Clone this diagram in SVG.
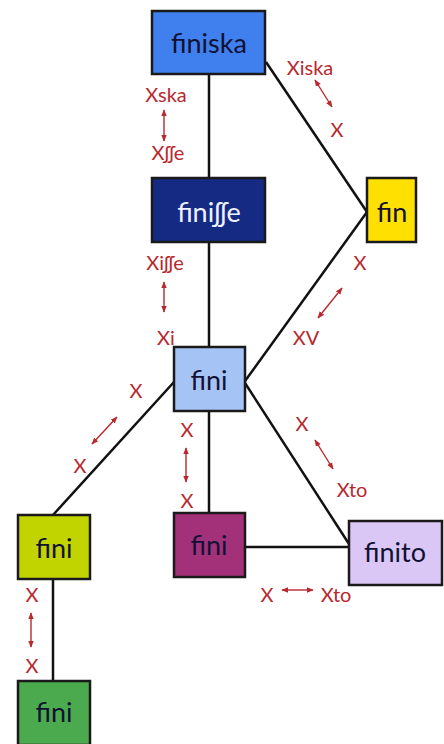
<svg xmlns="http://www.w3.org/2000/svg" width="444" height="744" viewBox="0 0 444 744">
<style>
.box{stroke:#1a1a1a;stroke-width:2.5}
.nt{font-family:Lato,"DejaVu Sans",sans-serif;font-size:27px;text-anchor:middle;fill:#111133}
.wt{fill:#f0f2ff}
.lbl{font-family:Lato,"DejaVu Sans",sans-serif;font-size:20px;text-anchor:middle;fill:#b8282e}
.edge{stroke:#111;stroke-width:2.5;fill:none}
.arr{stroke:#b8282e;stroke-width:1.4;fill:none;marker-start:url(#ah);marker-end:url(#ah)}
</style>
<defs>
<marker id="ah" viewBox="0 0 10 10" refX="9" refY="5" markerWidth="7" markerHeight="7" orient="auto-start-reverse" markerUnits="userSpaceOnUse">
<path d="M0,1 L10,5 L0,9 z" fill="#b8282e"/>
</marker>
</defs>
<rect width="444" height="744" fill="#fff"/>
<g id="connectors">
<line class="edge" x1="209" y1="75" x2="209" y2="178"/>
<line class="edge" x1="266" y1="62" x2="367" y2="212"/>
<line class="edge" x1="209" y1="243" x2="209" y2="347"/>
<line class="edge" x1="367" y1="212" x2="245" y2="381"/>
<line class="edge" x1="174" y1="382" x2="53" y2="515"/>
<line class="edge" x1="209" y1="411" x2="209" y2="512"/>
<line class="edge" x1="245" y1="383" x2="349" y2="544"/>
<line class="edge" x1="245" y1="547" x2="349" y2="547"/>
<line class="edge" x1="53" y1="579" x2="53" y2="680"/>
</g>
<g id="labels">
<text class="lbl" x="166" y="102">Xska</text>
<line class="arr" x1="164" y1="110" x2="164" y2="141"/>
<text class="lbl" x="168" y="160">Xʃʃe</text>
<text class="lbl" x="310" y="75">Xiska</text>
<line class="arr" x1="315" y1="80" x2="332" y2="107"/>
<text class="lbl" x="337" y="137">X</text>
<text class="lbl" x="165" y="270">Xiʃʃe</text>
<line class="arr" x1="164" y1="282" x2="164" y2="312"/>
<text class="lbl" x="166" y="345">Xi</text>
<text class="lbl" x="360" y="270">X</text>
<line class="arr" x1="342" y1="288" x2="318" y2="318"/>
<text class="lbl" x="306" y="345">XV</text>
<text class="lbl" x="136" y="398">X</text>
<line class="arr" x1="117" y1="417" x2="92" y2="444"/>
<text class="lbl" x="80" y="473">X</text>
<text class="lbl" x="187" y="437">X</text>
<line class="arr" x1="186" y1="448" x2="186" y2="482"/>
<text class="lbl" x="187" y="508">X</text>
<text class="lbl" x="302" y="431">X</text>
<line class="arr" x1="315" y1="440" x2="333" y2="469"/>
<text class="lbl" x="352" y="497">Xto</text>
<text class="lbl" x="267" y="602">X</text>
<line class="arr" x1="282" y1="590" x2="313" y2="590"/>
<text class="lbl" x="336" y="602">Xto</text>
<text class="lbl" x="32" y="602">X</text>
<line class="arr" x1="31" y1="613" x2="31" y2="647"/>
<text class="lbl" x="32" y="673">X</text>
</g>
<g id="n-finiska">
<rect class="box" x="152" y="11" width="113" height="63" fill="#3f80ee"/>
<text class="nt" x="209" y="53">finiska</text>
</g>
<g id="n-finisse">
<rect class="box" x="152" y="178" width="113" height="64" fill="#152a82"/>
<text class="nt wt" x="209" y="222">finiʃʃe</text>
</g>
<g id="n-fin">
<rect class="box" x="367" y="178" width="49" height="64" fill="#ffe000"/>
<text class="nt" x="392" y="222">fin</text>
</g>
<g id="n-fini-center">
<rect class="box" x="174" y="347" width="71" height="64" fill="#a6c3f5"/>
<text class="nt" x="209" y="390">fini</text>
</g>
<g id="n-fini-lime">
<rect class="box" x="18" y="515" width="72" height="64" fill="#c2d400"/>
<text class="nt" x="54" y="558">fini</text>
</g>
<g id="n-fini-magenta">
<rect class="box" x="174" y="513" width="71" height="64" fill="#a2317a"/>
<text class="nt" x="209" y="555">fini</text>
</g>
<g id="n-finito">
<rect class="box" x="349" y="521" width="93" height="64" fill="#dac7f6"/>
<text class="nt" x="395" y="562">finito</text>
</g>
<g id="n-fini-green">
<rect class="box" x="18" y="681" width="72" height="64" fill="#4caa4e"/>
<text class="nt" x="54" y="722">fini</text>
</g>
</svg>
